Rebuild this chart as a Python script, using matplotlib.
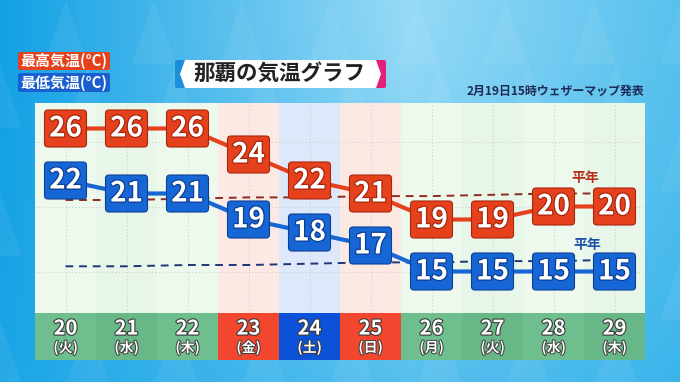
import numpy as np
import matplotlib
matplotlib.use("Agg")
import matplotlib.pyplot as plt
import matplotlib.transforms as mtransforms
from matplotlib.patches import FancyBboxPatch, Polygon
import matplotlib.patheffects as pe

plt.rcParams['font.family'] = ['Noto Sans CJK JP', 'DejaVu Sans']

# ---------------- data ----------------
days = ['20', '21', '22', '23', '24', '25', '26', '27', '28', '29']
weekdays = ['火', '水', '木', '金', '土', '日', '月', '火', '水', '木']
day_types = ['w', 'w', 'w', 'h', 's', 'h', 'w', 'w', 'w', 'w']
highs = [26, 26, 26, 24, 22, 21, 19, 19, 20, 20]
lows = [22, 21, 21, 19, 18, 17, 15, 15, 15, 15]
normal_high = [20.5, 20.5, 20.6, 20.7, 20.7, 20.8, 20.8, 20.9, 21.0, 21.0]
normal_low = [15.4, 15.4, 15.5, 15.5, 15.6, 15.7, 15.7, 15.8, 15.8, 15.9]
title = '那覇の気温グラフ'
subtitle = '2月19日15時ウェザーマップ発表'
legend_high = '最高気温(°C)'
legend_low = '最低気温(°C)'
normal_label = '平年'

RED = '#e6411d'
BLUE = '#1766d6'
RED_D = '#a8260c'
BLUE_D = '#0c3f94'

W, H = 680, 382
fig = plt.figure(figsize=(W / 100, H / 100), dpi=100)

# ---------------- background ----------------
bg = fig.add_axes([0, 0, 1, 1])
bg.set_xlim(0, W)
bg.set_ylim(H, 0)
bg.axis('off')
xx = np.linspace(0, 1, W)[None, :, None]
yy = np.linspace(0, 1, H)[:, None, None]
left_c = np.array([18, 160, 228]) / 255
mid_c = np.array([150, 218, 246]) / 255
right_c = np.array([88, 193, 238]) / 255
tl = np.clip(xx / 0.6, 0, 1)
tr = np.clip((xx - 0.6) / 0.4, 0, 1)
horiz = np.where(xx < 0.6, left_c * (1 - tl) + mid_c * tl, mid_c * (1 - tr) + right_c * tr)
bot_c = np.array([36, 170, 232]) / 255
t = (yy ** 1.4) * 0.55
img = horiz * (1 - t) + bot_c * t
bg.imshow(img, extent=(0, W, H, 0), aspect='auto', zorder=0)
# subtle triangle pattern
tw, th = 44, 64
for r in range(int(H / th) + 2):
    for c in range(int(W / tw) + 2):
        x0 = c * tw - (tw / 2 if r % 2 else 0)
        y0 = r * th
        tri = Polygon([(x0, y0 + th), (x0 + tw / 2, y0), (x0 + tw, y0 + th)],
                      closed=True, fc='white', ec='none',
                      alpha=0.06 if (r + c) % 2 else 0.0, zorder=0.5)
        bg.add_patch(tri)

# legend boxes
bg.add_patch(FancyBboxPatch((18, 52), 92, 18, boxstyle='round,pad=0,rounding_size=2',
                            fc=RED, ec='none', zorder=2))
bg.text(64, 61, legend_high, color='white', fontsize=10.8, fontweight='bold',
        ha='center', va='center', zorder=3)
bg.add_patch(FancyBboxPatch((18, 73), 92, 19, boxstyle='round,pad=0,rounding_size=2',
                            fc='#1a5fd0', ec='none', zorder=2))
bg.text(64, 82.5, legend_low, color='white', fontsize=10.8, fontweight='bold',
        ha='center', va='center', zorder=3)

# title box
bg.add_patch(FancyBboxPatch((175, 60), 12, 28, boxstyle='round,pad=0,rounding_size=2',
                            fc='#1b8fdc', ec='none', zorder=2))
bg.add_patch(FancyBboxPatch((374, 60), 12, 28, boxstyle='round,pad=0,rounding_size=2',
                            fc='#e3207a', ec='none', zorder=2))
bg.add_patch(Polygon([(185, 60), (376, 60), (381, 74), (376, 88), (185, 88), (180, 74)],
                     closed=True, fc='white', ec='none', zorder=3))
bg.text(280, 73.5, title, color='#222222', fontsize=15.5, fontweight='bold',
        ha='center', va='center', zorder=4)

bg.text(555, 91, subtitle, color='#1d2b55', fontsize=8.6, fontweight='bold',
        ha='center', va='center', zorder=3)

# panel (rounded white backing)
bg.add_patch(FancyBboxPatch((35, 103), 610, 257, boxstyle='round,pad=0,rounding_size=4',
                            fc='#f1faf1', ec='none', zorder=1))

# ---------------- chart axes ----------------
PX = 13.0
y_top = 26 + (128.5 - 103) / PX
y_bot = 26 - (313 - 128.5) / PX
ax = fig.add_axes([35 / W, (H - 313) / H, 610 / W, 210 / H])
ax.set_xlim(-0.5, 9.5)
ax.set_ylim(y_bot, y_top)
ax.axis('off')

col_bg = {'w': ['#eef9ee', '#e8f6e9'], 'h': ['#fde9e3', '#fde9e3'], 's': ['#dde9fb', '#dde9fb']}
for i, tp in enumerate(day_types):
    ax.axvspan(i - 0.5, i + 0.5, color=col_bg[tp][i % 2], lw=0, zorder=0)

for v in [15, 20, 25]:
    ax.axhline(v, color='#c9d3cc', lw=0.8, ls=(0, (1, 2)), zorder=0.5)
for i in range(len(days)):
    ax.axvline(i, color='#c9d3cc', lw=0.8, ls=(0, (1, 2)), zorder=0.5)

x = np.arange(len(days))
ax.plot(x, normal_high, color='#8e2a1f', lw=1.4, ls=(0, (4, 3)), zorder=1)
ax.plot(x, normal_low, color='#1d3578', lw=1.4, ls=(0, (4, 3)), zorder=1)
ax.plot(x, highs, color=RED, lw=3, zorder=2, solid_capstyle='round')
ax.plot(x, lows, color=BLUE, lw=3, zorder=2, solid_capstyle='round')


def box(i, v, fc, ec):
    trans = fig.dpi_scale_trans + mtransforms.ScaledTranslation(i, v, ax.transData)
    p = FancyBboxPatch((-0.21, -0.185), 0.42, 0.37,
                       boxstyle='round,pad=0,rounding_size=0.035',
                       fc=fc, ec=ec, lw=0.8, transform=trans, zorder=3, clip_on=False)
    ax.add_patch(p)
    ax.text(i, v, str(v), color='white', fontsize=20, fontweight='bold',
            ha='center', va='center', zorder=4,
            path_effects=[pe.withStroke(linewidth=1.8, foreground=ec)])


for i, v in enumerate(highs):
    box(i, v, RED, RED_D)
for i, v in enumerate(lows):
    box(i, v, BLUE, BLUE_D)

ax.text(8.52, 26 - (178 - 128.5) / PX, normal_label, color='#b8301a', fontsize=10,
        fontweight='bold', ha='center', va='center', zorder=4)
ax.text(8.55, 26 - (245 - 128.5) / PX, normal_label, color='#1f4fa8', fontsize=10,
        fontweight='bold', ha='center', va='center', zorder=4)

# ---------------- date strip ----------------
sx = fig.add_axes([35 / W, (H - 360) / H, 610 / W, 47 / H])
sx.set_xlim(-0.5, 9.5)
sx.set_ylim(0, 1)
sx.axis('off')
strip_c = {'w': ['#6fbe8e', '#68b887'], 'h': ['#f2462f', '#f2462f'], 's': ['#0c52d8', '#0c52d8']}
for i, tp in enumerate(day_types):
    sx.axvspan(i - 0.5, i + 0.5, color=strip_c[tp][i % 2], lw=0, zorder=0)
    sx.text(i, 0.68, days[i], color='white', fontsize=14.5, fontweight='bold',
            ha='center', va='center',
            path_effects=[pe.withStroke(linewidth=1.6, foreground='#3a3a3a')])
    sx.text(i, 0.26, '(' + weekdays[i] + ')', color='white', fontsize=10, fontweight='bold',
            ha='center', va='center',
            path_effects=[pe.withStroke(linewidth=1.4, foreground='#3a3a3a')])

fig.savefig('out.png', dpi=100)
